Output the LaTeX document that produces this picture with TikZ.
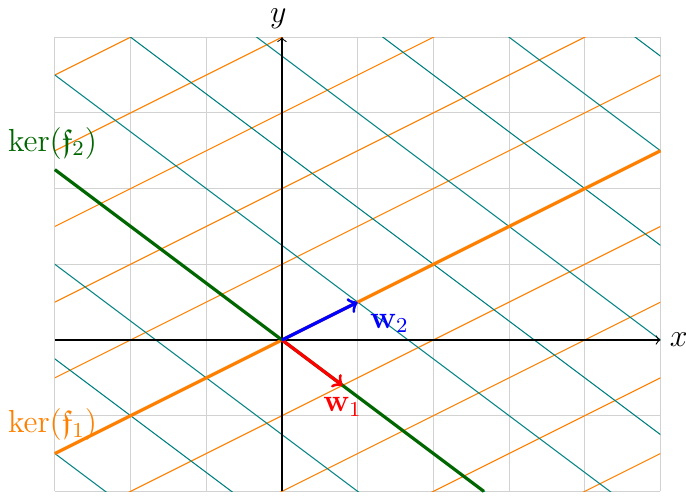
\documentclass[tikz,border=0pt]{standalone}
\usepackage{amsmath,amssymb}
\begin{document}
\begin{tikzpicture}[
  every node/.style={font=\large},
  gridline/.style={gray!35, thin},
  levelone/.style={orange, thin},
  leveltwo/.style={teal, thin},
  kerline/.style={very thick},
  vec/.style={->, very thick},
  axis/.style={->, thin, black}
]
\useasboundingbox (-3.725,-2.061) rectangle (5.337,4.491);
\draw[gridline] (-3,-2) grid (5,4);
\begin{scope}
  \clip (-3,-2) rectangle (5,4);
  \foreach \k in {-5,...,4} {
    \draw[levelone] (-4,{-2-\k}) -- (6,{3-\k});
  }
  \foreach \k in {-3,...,6} {
    \draw[leveltwo] (-4,{3+1.25*\k}) -- (6,{-4.5+1.25*\k});
  }
\end{scope}
\coordinate (O) at (0,0);
\coordinate (xa) at (-3,0);
\coordinate (xb) at (5,0);
\coordinate (ya) at (0,-2);
\coordinate (yb) at (0,4);
\draw[axis] (xa) -- (xb);
\draw[axis] (ya) -- (yb);
\node (xl) at (5.24,0) {$x$};
\node[inner sep=1pt] (yl) at (-0.05,4.25) {$y$};
\coordinate (k1a) at (-3,-1.5);
\coordinate (k1b) at (5,2.5);
\coordinate (k2a) at (-3,2.25);
\coordinate (k2b) at ({8/3},-2);
\draw[kerline, orange] (k1a) -- (k1b);
\draw[kerline, green!40!black] (k2a) -- (k2b);
\coordinate (w1) at (0.8,-0.6);
\coordinate (w2) at (1,0.5);
\draw[vec, red] (O) -- (w1);
\draw[vec, blue] (O) -- (w2);
\node[text=red] (w1l) at (0.8,-0.88) {$\mathbf{w}_1$};
\node[text=blue] (w2l) at (1.42,0.22) {$\mathbf{w}_2$};
\node[text=green!40!black] (k2l) at (-3.03,2.6) {$\ker(\mathfrak{f}_2)$};
\node[text=orange] (k1l) at (-3.03,-1.12) {$\ker(\mathfrak{f}_1)$};
\end{tikzpicture}
\end{document}
